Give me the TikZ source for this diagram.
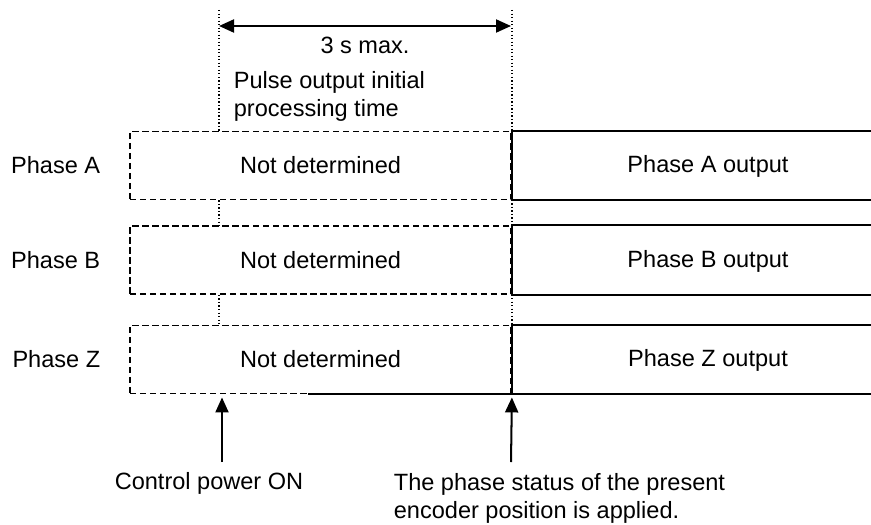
\documentclass[tikz,border=0pt]{standalone}
\usepackage{fontspec}
\setmainfont{Liberation Sans}
\usetikzlibrary{positioning,arrows.meta}

\begin{document}
\begin{tikzpicture}[
    font=\fontsize{13.4}{16}\selectfont,
    ndbox/.style={
        rectangle,
        draw=black,
        line width=1.05pt,
        dash pattern=on 3.6pt off 2.1pt,
        minimum width=7.62cm,
        minimum height=1.36cm,
        inner sep=0pt,
        align=center
    },
    outbox/.style={
        rectangle,
        minimum width=3cm,
        minimum height=1.36cm,
        inner sep=0pt,
        align=center
    },
    lbl/.style={
        inner sep=2pt,
        align=left
    },
    edge/.style={line width=1.15pt, line cap=rect},
    guide/.style={line width=0.6pt, dash pattern=on 0.7pt off 1.3pt},
    dimarrow/.style={{Triangle[length=0.3cm,width=0.26cm]}-{Triangle[length=0.3cm,width=0.26cm]}, line width=1.15pt},
    uparrow/.style={-{Triangle[length=0.3cm,width=0.26cm]}, line width=1.15pt, shorten >=0.06cm}
]

\useasboundingbox (0,0) rectangle (17.42,-10.48);

\coordinate (rim) at (17.42,0);
\coordinate (t1) at (4.38,-0.2);
\coordinate (t2) at (10.24,-0.2);

\node[ndbox] (ndA) at (6.41,-3.31) {Not determined};
\node[ndbox] (ndB) at (6.41,-5.2) {Not determined};
\node[ndbox] (ndZ) at (6.41,-7.19) {Not determined};

\node[outbox] (outA) at (14.16,-3.33) {Phase A output};
\node[outbox] (outB) at (14.16,-5.22) {Phase B output};
\node[outbox] (outZ) at (14.16,-7.21) {Phase Z output};

\node[lbl, left=0.5cm of ndA] (phA) {Phase A};
\node[lbl, left=0.5cm of ndB] (phB) {Phase B};
\node[lbl, left=0.5cm of ndZ] (phZ) {Phase Z};

\draw[guide] (t1) -- (t1 |- ndA.north);
\draw[guide] (t1 |- ndA.south) -- (t1 |- ndB.north);
\draw[guide] (t1 |- ndB.south) -- (t1 |- ndZ.north);
\draw[guide] (t2) -- (t2 |- ndZ.north);

\coordinate (a1) at (4.38,-0.52);
\coordinate (a2) at (10.22,-0.52);
\draw[dimarrow] (a1) -- (a2);

\node (max) at (7.3,-0.9) {3 s max.};
\node[lbl, anchor=west] (pulse) at (4.6,-1.92) {Pulse output initial\\processing time};

\draw[edge] (ndA.north east -| rim) -- (ndA.north east) -- (ndA.south east) -- (ndA.south east -| rim);
\draw[edge] (ndB.north east -| rim) -- (ndB.north east) -- (ndB.south east) -- (ndB.south east -| rim);
\draw[edge] (ndZ.north east -| rim) -- (ndZ.north east) -- (ndZ.south east) -- (ndZ.south east -| rim);
\draw[edge] ([xshift=-4.06cm]ndZ.south east) -- (ndZ.south east);

\coordinate (p1) at (4.44,-9.24);
\coordinate (p2) at (10.22,-9.24);
\draw[uparrow] (p1) -- (p1 |- ndZ.south);
\draw[uparrow] (p2) -- (ndZ.south east);

\node (pwr) at (4.18,-9.66) {Control power ON};
\node[lbl, anchor=west] (status) at (7.8,-9.97) {The phase status of the present\\encoder position is applied.};

\end{tikzpicture}
\end{document}
